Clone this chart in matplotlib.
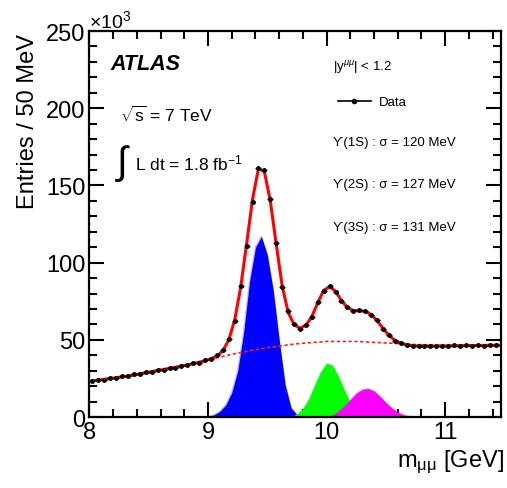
import numpy as np
import matplotlib
matplotlib.use("Agg")
from matplotlib import pyplot as plt
from matplotlib.lines import Line2D
from matplotlib.ticker import MultipleLocator

plt.rcParams['font.family'] = ['Liberation Sans', 'DejaVu Sans']
plt.rcParams['mathtext.fontset'] = 'custom'
plt.rcParams['mathtext.rm'] = 'Liberation Sans'
plt.rcParams['mathtext.it'] = 'Liberation Sans:italic'

# 50 MeV bins, 8.0 - 11.5 GeV (entries in units of 10^3)
bin_start = 8.025
data_vals = [23.2, 24.3, 24.2, 25.3, 25.4, 26.3, 26.5, 27.6, 27.8, 28.9,
             29.2, 30.4, 30.6, 31.8, 32.0, 33.3, 33.6, 34.9, 35.3, 36.8,
             37.5, 40.0, 43.5, 50.5, 62.0, 85.0, 110.5, 139.0, 161.5, 160.0,
             141.0, 112.5, 84.0, 68.5, 60.5, 57.0, 59.8, 64.5, 74.5, 81.5,
             85.0, 81.0, 75.0, 71.5, 68.6, 69.2, 68.9, 66.0, 62.8, 57.2,
             53.3, 49.5, 48.0, 46.6, 46.1, 46.3, 45.8, 46.2, 45.9, 46.3,
             45.9, 46.4, 46.0, 46.5, 46.2, 46.6, 46.3, 46.7, 46.4, 46.8]
fit_vals = [23.5, 24.0, 24.5, 25.0, 25.5, 26.1, 26.7, 27.3, 28.0, 28.7,
            29.4, 30.1, 30.8, 31.5, 32.2, 33.0, 33.8, 34.6, 35.5, 36.5,
            37.8, 39.5, 43.0, 50.0, 63.0, 84.0, 112.0, 141.0, 161.0, 159.0,
            140.0, 112.0, 85.0, 68.0, 60.0, 57.5, 59.5, 65.0, 74.0, 82.0,
            84.5, 81.5, 75.5, 71.0, 69.0, 68.8, 68.5, 66.5, 62.5, 57.5,
            53.0, 49.8, 47.8, 46.8, 46.3, 46.1, 46.0, 46.0, 46.0, 46.1,
            46.1, 46.2, 46.2, 46.3, 46.3, 46.4, 46.4, 46.5, 46.5, 46.6]

# background (dashed)
bkg_x = [8.0, 8.25, 8.5, 8.75, 9.0, 9.25, 9.5, 9.75, 10.0, 10.25, 10.5, 10.75, 11.0, 11.25, 11.5]
bkg_vals = [23.5, 25.7, 29.5, 33.0, 37.0, 41.5, 45.0, 47.5, 49.0, 49.0, 48.0, 47.0, 46.5, 46.5, 46.6]

# signal components, 50 MeV grid starting at given mass
ups1s_start = 8.5
ups1s_vals = [0] * 8 + [0, 0.1, 0.4, 1.5, 3.8, 8, 16, 30, 55, 88, 110, 117, 105, 82,
                        50, 21, 6, 1.5, 0.4, 0.1, 0, 0, 0]
ups2s_start = 9.65
ups2s_vals = [0, 0.6, 2, 5.5, 12, 21, 29.5, 35, 33.5, 26.5, 17.5, 9.5, 4.2, 1.5, 0.5, 0.1, 0]
ups3s_start = 9.95
ups3s_vals = [0, 0.4, 1.5, 4, 7.5, 11.5, 15.5, 18, 18.6, 17, 13.5, 9.5, 6, 3.2, 1.5,
              0.6, 0.2, 0.05] + [0] * 14


def _grid(start, vals):
    return start + 0.05 * np.arange(len(vals))


def main():
    W, H = 507, 489
    fig = plt.figure(figsize=(W / 100, H / 100), dpi=100)
    ax = fig.add_axes([0.1765, 0.145, 0.8115, 0.7895])

    comps = [(ups1s_start, ups1s_vals, '#0000ff', '#c0c0ff'),
             (ups2s_start, ups2s_vals, '#00ff00', '#c0ffc0'),
             (ups3s_start, ups3s_vals, '#ff00ff', '#ffc0ff')]
    for start, vals, col, pale in comps:
        x = _grid(start, vals)
        ax.plot(x, vals, color=pale, lw=1.0, zorder=1)
        ax.fill_between(x, 0, vals, color=col, lw=0, zorder=2)

    ax.plot(bkg_x, bkg_vals, color='#ff2020', lw=1.2, ls=(0, (2, 1.5)), zorder=3)

    xb = _grid(bin_start, data_vals)
    ax.plot(_grid(bin_start, fit_vals), fit_vals, color='#ff0000', lw=2.2, zorder=4)
    ax.errorbar(xb, data_vals, xerr=0.025, fmt='o', ms=2.5, color='black',
                elinewidth=0.9, zorder=5)

    ax.set_xlim(8, 11.47)
    ax.set_ylim(0, 250)
    ax.xaxis.set_major_locator(MultipleLocator(1))
    ax.xaxis.set_minor_locator(MultipleLocator(0.2))
    ax.yaxis.set_major_locator(MultipleLocator(50))
    ax.yaxis.set_minor_locator(MultipleLocator(10))
    ax.tick_params(which='both', direction='in', top=True, right=True, width=1.5,
                   labelsize=17, pad=3)
    ax.tick_params(which='major', length=11)
    ax.tick_params(which='minor', length=5.5)
    for sp in ax.spines.values():
        sp.set_linewidth(1.6)

    fig.text(28 / W, 1 - 34 / H, 'Entries / 50 MeV', rotation=90, fontsize=17,
             ha='center', va='top')
    fig.text(504 / W, 1 - 462 / H, r'm$_{\mathrm{\mu\mu}}$ [GeV]', fontsize=17,
             ha='right', va='center')
    ax.text(0.0, 1.0, r'$\times$10$^{3}$', transform=ax.transAxes, fontsize=14,
            ha='left', va='bottom')

    ax.text(0.05, 0.915, 'ATLAS', transform=ax.transAxes, fontsize=15.5,
            fontweight='bold', fontstyle='italic', va='center')
    ax.text(0.075, 0.785, r'$\sqrt{\mathrm{s}}$ = 7 TeV', transform=ax.transAxes,
            fontsize=12.5, va='center')
    ax.text(0.062, 0.66, r'$\int$', transform=ax.transAxes, fontsize=28, va='center',
            family='DejaVu Sans')
    ax.text(0.11, 0.66, r'L dt = 1.8 fb$^{-1}$', transform=ax.transAxes, fontsize=12.5,
            va='center')

    ax.text(0.593, 0.907, r'|y$^{\mu\mu}$| < 1.2', transform=ax.transAxes, fontsize=9.5,
            va='center')
    data_h = Line2D([], [], color='black', lw=1.2, marker='o', ms=3)
    ax.legend([data_h], ['Data'], loc='center left', bbox_to_anchor=(0.603, 0.816),
              frameon=False, fontsize=9.5, handlelength=2.5, handletextpad=0.6,
              borderpad=0, borderaxespad=0)
    labels = ['ϒ(1S) : σ = 120 MeV', 'ϒ(2S) : σ = 127 MeV', 'ϒ(3S) : σ = 131 MeV']
    for lab, yy in zip(labels, [0.712, 0.604, 0.492]):
        ax.text(0.593, yy, lab, transform=ax.transAxes, fontsize=9.5, va='center')

    fig.savefig('out.png', dpi=100)


if __name__ == "__main__":
    main()
